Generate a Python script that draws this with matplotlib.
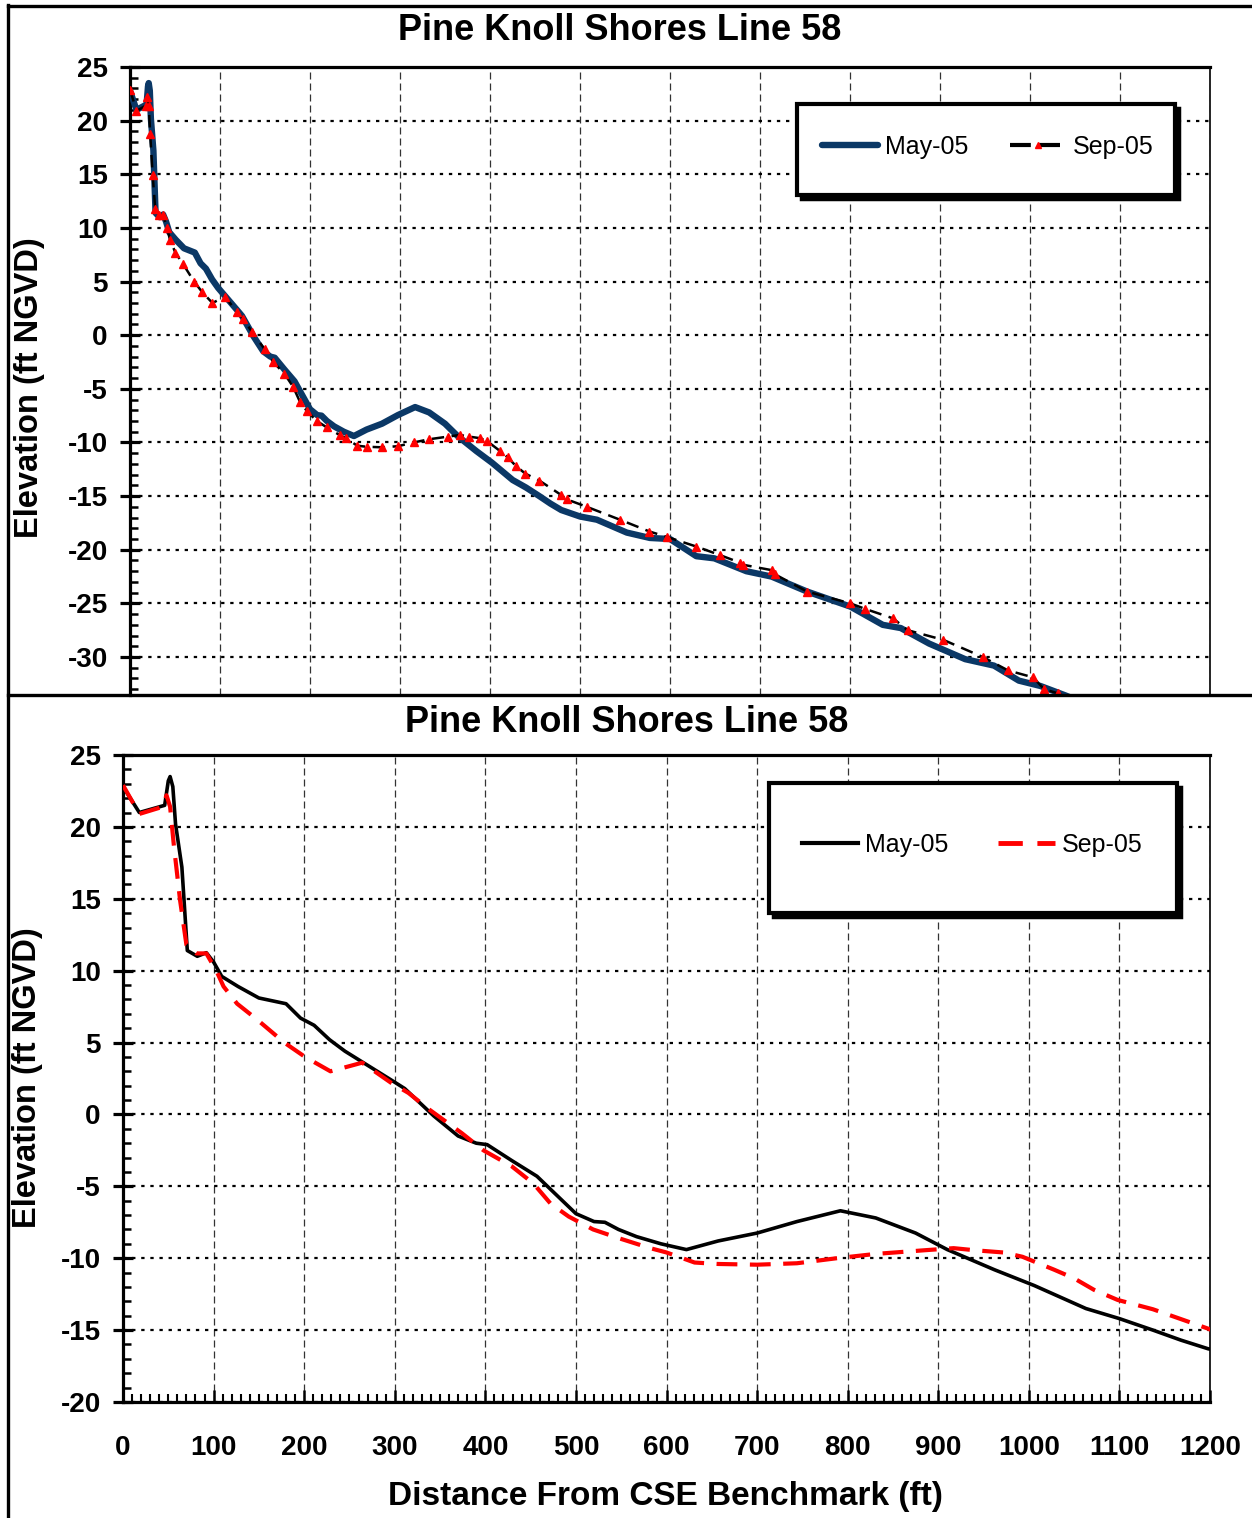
import numpy as np
import matplotlib.pyplot as plt
from matplotlib.lines import Line2D
from matplotlib.patches import Rectangle
from matplotlib.ticker import MultipleLocator

plt.rcParams['font.family'] = ['Liberation Sans', 'DejaVu Sans']
plt.rcParams['axes.unicode_minus'] = False

# profile data, distance from CSE benchmark (ft) / elevation (ft NGVD)
may_x = [0, 18, 46, 50, 52, 55, 58, 65, 71, 82, 92, 100, 109, 127, 150, 180, 196, 211,
         228, 245, 296, 311, 343, 370, 390, 402, 429, 457, 500, 520, 532, 547, 567, 594,
         622, 657, 700, 744, 792, 831, 875, 910, 962, 1006, 1063, 1100, 1137, 1168, 1198,
         1250, 1297, 1380, 1444, 1500, 1573, 1623, 1712, 1782, 1881, 2001, 2091, 2141,
         2220, 2320, 2400, 2469, 2529, 2600, 2650]
may_y = [22.8, 21.0, 21.5, 23.2, 23.5, 22.8, 20.2, 17.2, 11.4, 11.0, 11.25, 10.6, 9.6,
         8.9, 8.1, 7.7, 6.7, 6.2, 5.2, 4.4, 2.4, 1.8, -0.1, -1.5, -2.0, -2.1, -3.2, -4.3,
         -6.9, -7.45, -7.5, -8.0, -8.5, -9.0, -9.4, -8.8, -8.25, -7.45, -6.7, -7.2, -8.25,
         -9.4, -10.8, -11.9, -13.5, -14.2, -15.0, -15.7, -16.3, -16.9, -17.2, -18.4, -18.9,
         -19.0, -20.6, -20.8, -22.0, -22.5, -23.9, -25.3, -27.0, -27.3, -28.75, -30.2,
         -30.8, -32.2, -32.7, -33.6, -34.3]

sep_x = [0, 18, 44, 48, 52, 56, 63, 70, 81, 92, 103, 111, 126, 148, 178, 201, 229, 264,
         296, 315, 339, 374, 398, 429, 453, 472, 492, 519, 547, 582, 600, 631, 657, 700,
         744, 788, 831, 884, 917, 941, 972, 993, 1028, 1050, 1072, 1098, 1137, 1198, 1213,
         1269, 1361, 1443, 1491, 1573, 1639, 1694, 1703, 1782, 1792, 1881, 2001, 2041,
         2120, 2160, 2259, 2369, 2439, 2509, 2539, 2579, 2620]
sep_y = [22.9, 20.9, 21.4, 22.2, 21.4, 18.8, 14.9, 11.8, 11.2, 11.2, 10.0, 8.9, 7.7, 6.6,
         5.0, 4.0, 3.0, 3.6, 2.2, 1.5, 0.3, -1.3, -2.5, -3.6, -4.8, -6.2, -7.1, -8.0, -8.6,
         -9.3, -9.6, -10.3, -10.4, -10.45, -10.35, -10.0, -9.7, -9.45, -9.3, -9.45, -9.6,
         -9.9, -10.8, -11.4, -12.2, -12.9, -13.55, -14.9, -15.3, -16.0, -17.2, -18.3,
         -18.8, -19.7, -20.5, -21.2, -21.4, -21.9, -22.3, -23.9, -25.0, -25.5, -26.4,
         -27.5, -28.4, -30.0, -31.25, -31.9, -33.0, -33.4, -34.0]

title = 'Pine Knoll Shores Line 58'
labels = ['May-05', 'Sep-05']

W, H = 1252, 1518
fig = plt.figure(figsize=(W / 100, H / 100), dpi=100)


def px(x0, y0, x1, y1):
    # pixel box -> figure fraction [l, b, w, h]
    return [x0 / W, 1 - y1 / H, (x1 - x0) / W, (y1 - y0) / H]


def style_axes(ax):
    ax.set_axisbelow(True)
    ax.grid(axis='y', color='black', lw=1.6, ls=(0, (1.5, 2.6)))
    ax.grid(axis='x', color='#333333', lw=0.9, ls=(0, (5.6, 3.2)))
    for s in ['left', 'top', 'bottom']:
        ax.spines[s].set_linewidth(2.3)
    ax.spines['right'].set_linewidth(1.2)
    ax.yaxis.set_major_locator(MultipleLocator(5))
    ax.yaxis.set_minor_locator(MultipleLocator(1))
    ax.tick_params(axis='y', which='major', direction='inout', length=14, width=2.3,
                   pad=9, labelsize=20)
    ax.tick_params(axis='y', which='minor', direction='in', length=6, width=1.8)
    for t in ax.get_yticklabels():
        t.set_fontweight('bold')


# ---- top panel (compressed scale, clipped at bottom)
ax1 = fig.add_axes(px(130, 67, 1210, 695))
ax1.plot(may_x, may_y, color='#0b3866', lw=4.6, solid_capstyle='round', zorder=3)
ax1.plot(sep_x, sep_y, color='black', lw=1.8, ls=(0, (5, 3)), marker='^',
         markersize=5.5, markerfacecolor='red', markeredgecolor='red', zorder=4)
ax1.set_xlim(0, 3000)
ax1.set_ylim(-33.54, 25)
ax1.xaxis.set_major_locator(MultipleLocator(250))
ax1.tick_params(axis='x', which='both', length=0, labelbottom=False)
style_axes(ax1)
ax1.spines['bottom'].set_visible(False)

# ---- bottom panel
ax2 = fig.add_axes(px(123, 755, 1210, 1402))
ax2.plot(may_x, may_y, color='black', lw=2.6, zorder=3)
ax2.plot(sep_x, sep_y, color='red', lw=3.0, ls=(0, (5, 3)), zorder=4)
ax2.set_xlim(0, 1200)
ax2.set_ylim(-20, 25)
ax2.xaxis.set_major_locator(MultipleLocator(100))
ax2.xaxis.set_minor_locator(MultipleLocator(10))
style_axes(ax2)
ax2.tick_params(axis='x', which='major', direction='in', length=9, width=1.8,
                pad=24, labelsize=20)
ax2.tick_params(axis='x', which='minor', direction='in', length=5.5, width=1.5)
for t in ax2.get_xticklabels():
    t.set_fontweight('bold')

# ---- titles and axis labels
fig.text(620 / W, 1 - 31 / H, title, ha='center', va='center', fontsize=26, fontweight='bold')
fig.text(627 / W, 1 - 722 / H, title, ha='center', va='center', fontsize=26, fontweight='bold')
fig.text(30 / W, 1 - 388 / H, 'Elevation (ft NGVD)', rotation=90, ha='center', va='center',
         fontsize=23.5, fontweight='bold')
fig.text(28 / W, 1 - 1078 / H, 'Elevation (ft NGVD)', rotation=90, ha='center', va='center',
         fontsize=23.5, fontweight='bold')
fig.text(665 / W, 1 - 1496 / H, 'Distance From CSE Benchmark (ft)', ha='center', va='center',
         fontsize=24, fontweight='bold')


# ---- legend boxes with black drop shadow
def legend_box(x0, y0, x1, y1, handles, cx, cy, cs):
    off = 4
    fig.add_artist(Rectangle(((x0 + off) / W, 1 - (y1 + off) / H), (x1 - x0) / W, (y1 - y0) / H,
                             transform=fig.transFigure, facecolor='black', edgecolor='black',
                             lw=2.5, zorder=2))
    fig.add_artist(Rectangle((x0 / W, 1 - y1 / H), (x1 - x0) / W, (y1 - y0) / H,
                             transform=fig.transFigure, facecolor='white', edgecolor='black',
                             lw=3, zorder=3))
    fig.legend(handles, labels, loc='center', bbox_to_anchor=(cx / W, 1 - cy / H),
               bbox_transform=fig.transFigure, ncol=2, frameon=False, fontsize=18,
               handlelength=2.25, handletextpad=0.28, columnspacing=cs, numpoints=1)


h_top = [Line2D([], [], color='#0b3866', lw=4.6, solid_capstyle='round'),
         Line2D([], [], color='black', lw=3, ls=(0, (5, 2)), marker='^', markersize=5,
                markerfacecolor='red', markeredgecolor='red')]
legend_box(797, 104, 1175, 195, h_top, 988, 147, 1.65)

h_bot = [Line2D([], [], color='black', lw=3),
         Line2D([], [], color='red', lw=3.5, ls=(0, (5, 3)))]
legend_box(769, 783, 1177, 913, h_bot, 972, 845, 2.0)

# ---- outer frame lines
for xs, ys in [([8, 8], [5, 1518]), ([8, 1252], [6, 6]), ([8, 1252], [695, 695])]:
    fig.add_artist(Line2D([x / W for x in xs], [1 - y / H for y in ys],
                          transform=fig.transFigure, color='black', lw=2.4, zorder=10))

fig.savefig('out.png', dpi=100)
